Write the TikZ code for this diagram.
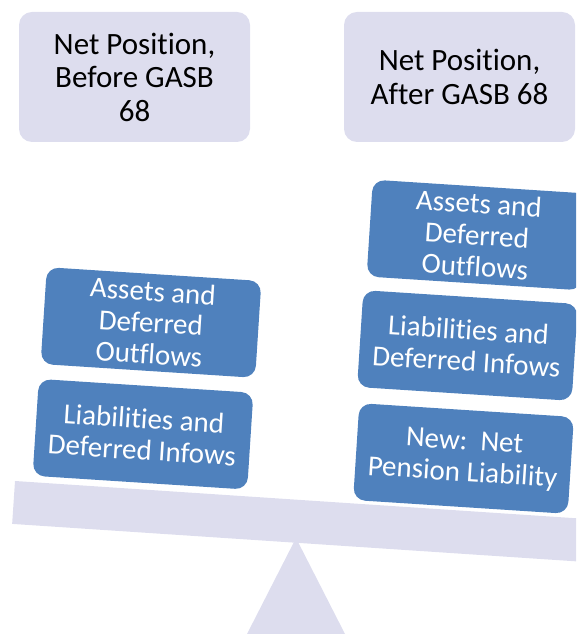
\documentclass[tikz,border=0pt]{standalone}
\usepackage{fontspec}
\setmainfont{Carlito}[Ligatures=NoCommon]
\definecolor{lav}{RGB}{221,221,238}
\definecolor{officeblue}{RGB}{79,129,189}
\tikzset{
headbox/.style={fill=lav, rounded corners=13pt, minimum width=231pt, minimum height=130pt,
  align=center, inner sep=0pt, font=\fontsize{31}{33.5}\selectfont},
bluebox/.style={fill=officeblue, text=white, rounded corners=12pt, minimum width=215pt,
  minimum height=97pt, align=center, inner sep=0pt, rotate=-3.7,
  font=\fontsize{29}{31.5}\selectfont}
}

\begin{document}
\begin{tikzpicture}[x=1pt,y=1pt]
\clip (0,0) rectangle (576,634);
\fill[lav] (247,0)--(296,96)--(345,0)--cycle;
\fill[lav, rotate around={-3.8:(15,153)}] (15,153) rectangle (640,110);

\node[headbox] (before) at (134.5,557) {Net Position,\\Before GASB\\68};
\node[headbox] (after) at (459.5,557) {Net Position,\\After GASB 68};

\node[bluebox] (assetsL) at (151,311.5) {Assets and\\Deferred\\Outflows};
\node[bluebox] (liabL) at (143,199.75) {Liabilities and\\Deferred Infows};

\node[bluebox] (assetsR) at (477,399) {Assets and\\Deferred\\Outflows};
\node[bluebox] (liabR) at (467.5,288.5) {Liabilities and\\Deferred Infows};
\node[bluebox] (pension) at (463.5,175.5) {New:\ \ Net\\Pension Liability};

\end{tikzpicture}
\end{document}
